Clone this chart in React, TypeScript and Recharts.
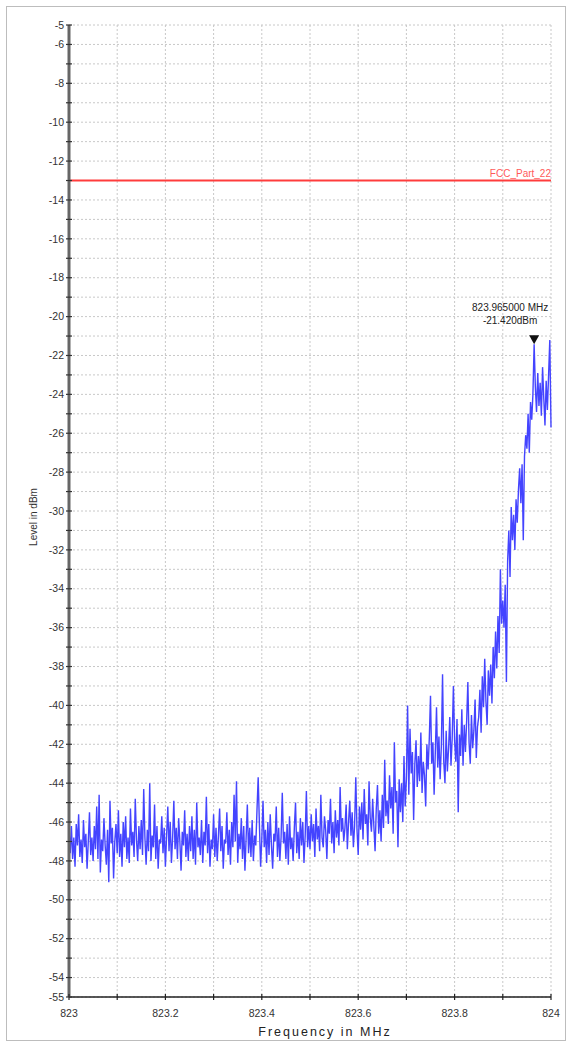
import React from "react"
import { CartesianGrid, Line, LineChart, ReferenceDot, ReferenceLine, XAxis, YAxis } from "recharts"

// sweep: 823 MHz .. 824 MHz, 401 points (2.5 kHz bins)
const START_MHZ = 823
const STEP_MHZ = 0.0025

const levels = [
  -46.4, -47.6, -46.2, -47.9, -46.8, -48.3, -46.1, -47.2, -45.6, -47.8, -46.9, -48.1, -45.9, -47.3, -46.6, -48.4, -47.0, -45.5, -47.7, -46.8,
  -48.0, -46.2, -47.4, -45.2, -47.9, -44.6, -48.6, -46.9, -47.5, -45.8, -47.2, -48.2, -46.4, -49.1, -44.9, -47.1, -46.3, -48.9, -47.0, -46.1,
  -47.6, -45.4, -47.8, -46.6, -48.3, -46.0, -47.3, -45.7, -47.9, -46.8, -48.1, -45.3, -47.2, -46.5, -47.8, -44.8, -46.9, -48.0, -46.2, -47.4,
  -45.9, -47.7, -44.3, -46.8, -48.2, -46.4, -47.5, -44.0, -48.0, -46.7, -47.3, -45.1, -47.9, -46.2, -48.4, -46.9, -47.1, -45.7, -47.6, -46.3,
  -48.3, -46.7, -45.2, -47.5, -46.0, -48.1, -46.8, -44.9, -47.4, -46.3, -47.9, -45.8, -47.0, -48.5, -46.5, -47.2, -45.4, -47.8, -46.6, -48.0,
  -46.2, -47.5, -45.7, -47.9, -46.4, -48.2, -45.0, -47.3, -46.8, -47.7, -45.9, -48.1, -46.5, -47.2, -44.7, -47.6, -46.1, -48.3, -46.9, -47.4,
  -45.6, -47.8, -46.3, -48.0, -46.7, -45.3, -47.5, -46.2, -48.4, -46.9, -47.1, -45.5, -47.7, -46.4, -48.2, -46.0, -47.3, -44.6, -47.0, -43.9,
  -48.1, -46.6, -47.4, -45.8, -47.9, -46.2, -48.5, -46.8, -45.1, -47.6, -46.3, -47.8, -45.9, -48.0, -46.7, -47.2, -45.4, -43.7, -46.1, -48.3,
  -46.9, -44.9, -47.3, -46.4, -48.1, -46.0, -47.7, -45.6, -47.2, -48.4, -46.6, -47.0, -45.2, -47.8, -46.3, -48.0, -46.8, -44.5, -47.1, -46.5,
  -47.9, -46.1, -48.2, -45.7, -47.4, -46.8, -48.0, -46.3, -45.0, -47.6, -46.5, -47.9, -45.8, -47.2, -46.0, -48.1, -46.7, -44.4, -47.3, -46.2,
  -47.4, -45.6, -47.0, -46.1, -47.8, -45.3, -46.9, -46.2, -47.5, -44.6, -46.8, -47.3, -45.7, -46.4, -47.9, -45.9, -46.6, -44.8, -47.1, -46.0,
  -47.6, -45.4, -46.8, -45.9, -47.2, -44.2, -46.5, -45.8, -47.0, -46.3, -45.1, -47.4, -46.0, -44.9, -46.7, -45.5, -47.3, -46.2, -43.7, -46.4,
  -47.7, -45.2, -46.4, -45.0, -46.9, -44.3, -46.1, -45.6, -47.2, -43.9, -45.8, -46.5, -44.8, -46.2, -47.5, -45.3, -44.1, -46.6, -45.4, -47.0,
  -44.6, -46.3, -42.8, -45.7, -44.9, -46.1, -43.6, -45.3, -44.2, -46.6, -41.9, -45.0, -44.4, -47.3, -43.8, -45.5, -44.0, -46.0, -42.6, -45.2,
  -43.8, -40.0, -44.6, -41.2, -43.5, -42.4, -45.9, -43.0, -41.8, -44.2, -42.6, -43.9, -41.4, -44.5, -42.9, -43.6, -45.2, -42.0, -43.3, -41.7,
  -39.5, -43.0, -41.9, -44.6, -42.4, -40.1, -43.2, -41.6, -43.8, -42.1, -38.4, -42.9, -44.0, -41.3, -43.4, -42.2, -40.6, -43.1, -41.7, -39.0,
  -41.8, -42.9, -40.7, -45.5, -41.5, -42.6, -40.2, -43.1, -41.0, -42.4, -40.8, -38.8, -41.9, -43.0, -40.5, -42.2, -41.3, -39.7, -42.7, -41.1,
  -40.6, -39.2, -41.4, -38.5, -40.1, -37.6, -39.8, -41.0, -38.2, -39.5, -37.9, -39.9, -37.0, -38.6, -36.2, -38.1, -35.4, -37.3, -33.0, -35.8,
  -34.6, -36.0, -33.8, -38.8, -32.6, -31.0, -33.4, -29.8, -31.5, -30.2, -32.0, -29.4, -30.6, -28.9, -27.8, -29.6, -27.6, -31.5, -27.2, -26.1,
  -26.8, -25.0, -27.0, -24.4, -25.3, -24.0, -21.42, -23.6, -24.9, -22.9, -24.6, -23.4, -25.1, -22.6, -24.2, -25.6, -23.3, -24.8, -23.0, -21.2,
  -25.7,
]

const xTicks = [823, 823.1, 823.2, 823.3, 823.4, 823.5, 823.6, 823.7, 823.8, 823.9, 824]
const xTickLabels = ["823", "", "823.2", "", "823.4", "", "823.6", "", "823.8", "", "824"]

const yTicks = [
  -5, -6, -7, -8, -9, -10, -11, -12, -13, -14, -15, -16, -17, -18, -19, -20, -21, -22, -23, -24, -25,
  -26, -27, -28, -29, -30, -31, -32, -33, -34, -35, -36, -37, -38, -39, -40, -41, -42, -43, -44, -45,
  -46, -47, -48, -49, -50, -51, -52, -53, -54, -55,
]
const yLabeled = [
  -5, -6, -8, -10, -12, -14, -16, -18, -20, -22, -24, -26, -28, -30, -32, -34, -36, -38, -40, -42, -44,
  -46, -48, -50, -52, -54, -55,
]

const limitLevel = -13
const limitName = "FCC_Part_22"
const markerFreq = 823.965
const markerLevel = -21.42

const data = levels.map((level, i) => ({ freq: START_MHZ + i * STEP_MHZ, level }))

const FONT = "'Liberation Sans', Arial, sans-serif"

function YTick(props: any) {
  const { x, y, payload } = props
  const v = payload.value
  return (
    <g>
      <line x1={x - 3} x2={x + 3} y1={y} y2={y} stroke="#333" strokeWidth={1.2} />
      {yLabeled.includes(v) && (
        <text x={x - 5} y={y} dy="0.35em" textAnchor="end" fontSize={10.5} fill="#333" fontFamily={FONT}>
          {v}
        </text>
      )}
    </g>
  )
}

function XTick(props: any) {
  const { x, y, index } = props
  const label = xTickLabels[index] ?? ""
  return (
    <g>
      <line x1={x} x2={x} y1={y - 3} y2={y + 3} stroke="#222" strokeWidth={1.2} />
      {label && (
        <text x={x} y={y + 20} textAnchor="middle" fontSize={10.5} fill="#333" fontFamily={FONT}>
          {label}
        </text>
      )}
    </g>
  )
}

function MarkerShape(props: any) {
  const { cx, cy } = props
  return (
    <g>
      <polygon points={`${cx - 5},${cy - 9} ${cx + 5},${cy - 9} ${cx},${cy}`} fill="#111" />
      <text x={cx - 24} y={cy - 33} textAnchor="middle" fontSize={10} fill="#222" fontFamily={FONT}>
        {`${markerFreq.toFixed(6)} MHz`}
      </text>
      <text x={cx - 24} y={cy - 20} textAnchor="middle" fontSize={10} fill="#222" fontFamily={FONT}>
        {`${markerLevel.toFixed(3)}dBm`}
      </text>
    </g>
  )
}

export default function App() {
  return (
    <div
      style={{
        position: "absolute",
        left: 6,
        top: 6,
        width: 560,
        height: 1035,
        border: "1px solid #bdbdbd",
        boxSizing: "border-box",
        background: "#fff",
      }}
    >
      <LineChart width={558} height={1033} data={data} margin={{ top: 18, right: 14, left: 0, bottom: 0 }}>
        <CartesianGrid stroke="#c8c8c8" strokeDasharray="2 2" />
        <XAxis
          dataKey="freq"
          type="number"
          domain={[823, 824]}
          ticks={xTicks}
          interval={0}
          height={43}
          tickSize={0}
          tickMargin={0}
          tickLine={false}
          tick={<XTick />}
          axisLine={{ stroke: "#222", strokeWidth: 1.5 }}
          label={({ viewBox }: any) => (
            <text
              x={318}
              y={viewBox.y + 39}
              textAnchor="middle"
              fontSize={12.5}
              letterSpacing={2}
              fill="#222"
              fontFamily={FONT}
            >
              Frequency in MHz
            </text>
          )}
        />
        <YAxis
          type="number"
          domain={[-55, -5]}
          ticks={yTicks}
          interval={0}
          width={62}
          tickSize={0}
          tickMargin={0}
          tickLine={false}
          tick={<YTick />}
          allowDataOverflow
          axisLine={{ stroke: "#666", strokeWidth: 3 }}
          label={({ viewBox }: any) => {
            const cx = viewBox.x + 26
            const cy = viewBox.y + viewBox.height / 2 + 6
            return (
              <text
                x={cx}
                y={cy}
                transform={`rotate(-90 ${cx} ${cy})`}
                textAnchor="middle"
                dy="0.35em"
                fontSize={10}
                fill="#333"
                fontFamily={FONT}
              >
                Level in dBm
              </text>
            )
          }}
        />
        <ReferenceLine
          y={limitLevel}
          stroke="#ff3c3c"
          strokeWidth={2}
          label={({ viewBox }: any) => (
            <text
              x={viewBox.x + viewBox.width}
              y={viewBox.y - 4}
              textAnchor="end"
              fontSize={10}
              fill="#ff5a5a"
              fontFamily={FONT}
            >
              {limitName}
            </text>
          )}
        />
        <Line
          type="linear"
          dataKey="level"
          stroke="#4444ff"
          strokeWidth={1.4}
          dot={false}
          isAnimationActive={false}
        />
        <ReferenceDot x={markerFreq} y={markerLevel} shape={<MarkerShape />} />
      </LineChart>
    </div>
  )
}
